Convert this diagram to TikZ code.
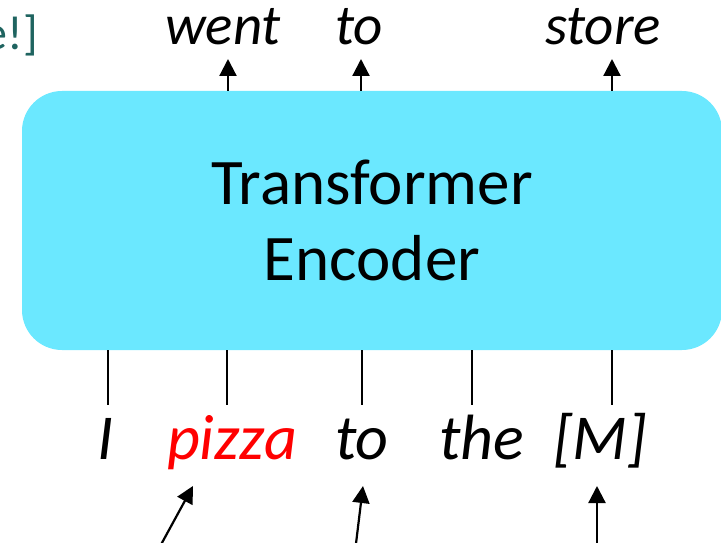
\documentclass[tikz,border=0pt]{standalone}
\usepackage{fontspec}
\setmainfont{Carlito}
\usetikzlibrary{arrows.meta}
\definecolor{enccyan}{HTML}{6BE8FF}
\definecolor{tealtxt}{HTML}{1F6460}
\begin{document}
\begin{tikzpicture}[x=1pt,y=-1pt,
  arr/.style={line width=2.2pt,-{Triangle[width=17pt,length=17pt]}},
  plain/.style={line width=2.2pt},
  topword/.style={anchor=base,inner sep=0pt,font=\fontsize{57}{60}\selectfont\itshape},
  botword/.style={anchor=base,inner sep=0pt,font=\fontsize{64}{66}\selectfont\itshape}]
\useasboundingbox (0,0) rectangle (721,543);
\clip (0,0) rectangle (721,543);
\node[fill=enccyan,rounded corners=40pt,minimum width=700pt,minimum height=259pt,
  inner sep=0pt,align=center,font=\fontsize{65}{76}\selectfont] (enc) at (372,220.5)
  {Transformer\\Encoder};
% partial title text
\node[anchor=base east,inner sep=0pt,text=tealtxt,font=\fontsize{48}{52}\selectfont] (ttl) at (38,50) {e!]};
% top words
\node[topword] (w1) at (223,45) {went};
\node[topword] (w2) at (359,45) {to};
\node[topword] (w3) at (603,45) {store};
\coordinate (a1) at (228,59);
\coordinate (a2) at (361,59);
\coordinate (a3) at (612,59);
\draw[arr] (enc.north -| a1) -- (a1);
\draw[arr] (enc.north -| a2) -- (a2);
\draw[arr] (enc.north -| a3) -- (a3);
% bottom words
\node[botword] (b1) at (106,459) {I};
\node[botword,text=red] (b2) at (232,459) {pizza};
\node[botword] (b3) at (362,459) {to};
\node[botword] (b4) at (482,459) {the};
\node[botword] (b5) at (600,459) {[M]};
\coordinate (l1) at (108,405);
\coordinate (l2) at (227,405);
\coordinate (l3) at (362,405);
\coordinate (l4) at (472,405);
\coordinate (l5) at (612,405);
\draw[plain] (enc.south -| l1) -- (l1);
\draw[plain] (enc.south -| l2) -- (l2);
\draw[plain] (enc.south -| l3) -- (l3);
\draw[plain] (enc.south -| l4) -- (l4);
\draw[plain] (enc.south -| l5) -- (l5);
% incoming arrows from below
\coordinate (s1) at (152.6,560);
\coordinate (t1) at (193,486);
\coordinate (s2) at (354,560);
\coordinate (t2) at (363,486);
\coordinate (s3) at (597,560);
\coordinate (t3) at (597,486);
\draw[arr] (s1) -- (t1);
\draw[arr] (s2) -- (t2);
\draw[arr] (s3) -- (t3);
\end{tikzpicture}
\end{document}
